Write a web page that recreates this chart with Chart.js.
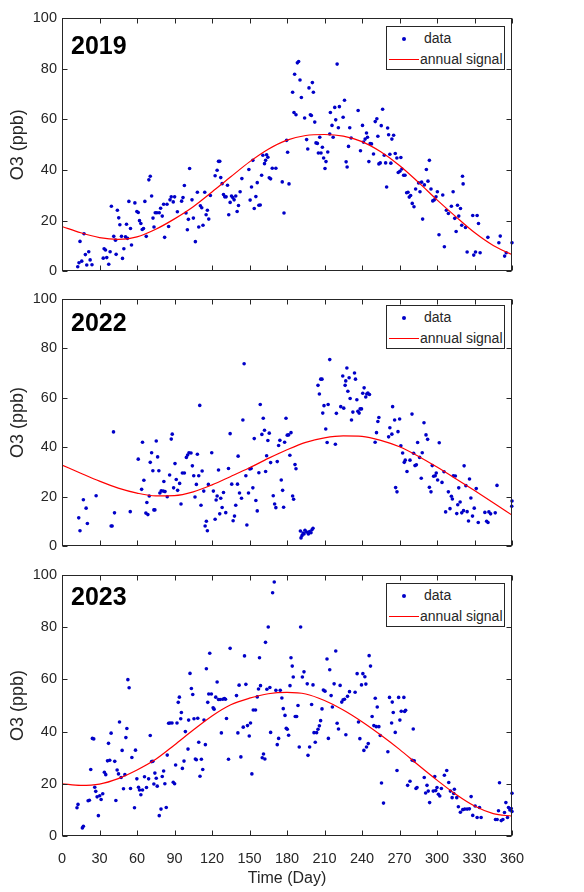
<!DOCTYPE html>
<html>
<head>
<meta charset="utf-8">
<script src="https://cdn.jsdelivr.net/npm/chart.js@4.4.1/dist/chart.umd.min.js"></script>
<style>
  body { margin: 0; background: #fff; }
  #wrap { position: relative; width: 584px; height: 892px; overflow: hidden; }
  canvas { position: absolute; left: 0; }
  .legend {
    position: absolute; left: 386px; width: 117px; height: 42px;
    border: 1px solid #262626; background: #fff;
    font: 14px "Liberation Sans", Arial, sans-serif; color: #262626;
  }
  .legend .dot { position: absolute; left: 15px; top: 10px; width: 4px; height: 4px; border-radius: 2px; background: #0000c8; }
  .legend .line { position: absolute; left: 2px; top: 32px; width: 30px; height: 1px; background: #ff0000; }
  .legend .t1 { position: absolute; left: 37px; top: 3px; }
  .legend .t2 { position: absolute; left: 33px; top: 24px; }
</style>
</head>
<body>
<div id="wrap">
  <canvas id="c2019" width="584" height="285" style="top:0px"></canvas>
  <canvas id="c2022" width="584" height="275" style="top:285px"></canvas>
  <canvas id="c2023" width="584" height="332" style="top:560px"></canvas>
  <div class="legend" style="top:26px"><span class="dot"></span><span class="t1">data</span><span class="line"></span><span class="t2">annual signal</span></div>
  <div class="legend" style="top:305px"><span class="dot"></span><span class="t1">data</span><span class="line"></span><span class="t2">annual signal</span></div>
  <div class="legend" style="top:583px"><span class="dot"></span><span class="t1">data</span><span class="line"></span><span class="t2">annual signal</span></div>
</div>
<script>
// tick values
const xTicks = [0, 30, 60, 90, 120, 150, 180, 210, 240, 270, 300, 330, 360];
const yTicks = [0, 20, 40, 60, 80, 100];

// annual signal, read every 15 days
const signalDays = [0, 15, 30, 45, 60, 75, 90, 105, 120, 135, 150, 165, 180, 195, 210, 225, 240, 255, 270, 285, 300, 315, 330, 345, 360];
const signal2019 = [17.7, 15.2, 13.3, 12.6, 13.6, 16.6, 20.7, 25.5, 31.3, 37.3, 43.2, 48.2, 51.8, 53.6, 54, 53.4, 51.2, 47.2, 41.8, 35.2, 28.2, 21.6, 15.3, 10.2, 6.6];
const signal2022 = [32.8, 29.5, 26.3, 23.5, 21.5, 20.4, 20.5, 22, 24.8, 28.2, 31.7, 35.5, 39, 42, 43.8, 44.6, 44.4, 42.8, 40.2, 36.4, 32, 27.3, 22.5, 17.6, 12.6];
const signal2023 = [20, 19.4, 19.9, 22, 25.3, 29.4, 34.9, 40.6, 46, 50.3, 52.8, 54.5, 55, 54.4, 51.9, 48.3, 43.8, 38.7, 33.2, 27.2, 21.4, 16, 11.5, 8.6, 7.6];

// daily O3 observations [day, ppb]
const obs2019 = [
  [12.6,1.8],[13.6,3.4],[14.4,11.8],[15.8,4],[17.6,14.8],[18.7,6.6],[19.8,2.5],[21.4,7.7],[22.5,4.5],[24,2.6],
  [33,5.2],[33.7,8.9],[34.8,8.4],[35.8,5.4],[37.4,2.8],[38.5,7.7],[39.5,25.7],[41.4,13.8],[42.8,12.3],[43.3,6.7],
  [44.3,24.1],[45.4,21.1],[46.3,18.4],[47.6,13.8],[48.4,5.1],[49.5,8.9],[50.8,13.6],[51.6,18.6],[52.4,13],[53.5,27.6],
  [54.8,16.9],[55.6,10.4],[58.3,27],[59.9,23.6],[61,23.2],[62,20],[63.1,18.9],[64.2,16.5],[65.2,16.9],[66.3,27.6],
  [67.4,13.8],[69.5,36.1],[70.6,37.5],[71.7,29.7],[72.8,21],[73.6,17.5],[74.6,23.1],[75.9,23.1],[77.8,23.1],[78.9,24.9],
  [80.2,21.8],[81.3,26.5],[82.1,13.4],[84,26.5],[85.3,17.7],[86.4,28.2],[87.4,29.4],[89,27.4],[90.1,29.4],[92.3,23.5],
  [95.7,27.7],[96.8,29.1],[97.9,33.9],[99.2,23],[100.3,16.4],[101.1,20.5],[102.1,40.6],[104,28.2],[105.1,21],[106.7,11.7],
  [108.3,31.2],[109.4,17.5],[110.7,25.9],[111.8,25.1],[112.8,18.2],[114.2,31.2],[115.3,22.3],[116.3,24.1],[117.4,20.6],[118.7,29.9],
  [122.5,37.7],[124.1,39.9],[125.2,43.4],[126.2,43.4],[127,37],[128.1,34.6],[129.2,30.3],[130.2,29.4],[131.3,29.4],[132.4,34],
  [133.4,22.3],[134.5,27.2],[135.6,29.7],[136.6,29.1],[137.7,28.2],[139,29.7],[140.1,23.6],[141.2,26],[142.5,31.4],[143.9,36.6],
  [149.5,40.2],[150.5,28.1],[151.6,33.3],[152.7,43.8],[153.8,24.8],[155.1,29.5],[156.2,35],[157.5,26.1],[158.6,26.2],[159.7,37.9],
  [160.7,45.8],[162,42.5],[162.9,43.8],[163.7,46],[164.7,45],[165.8,36.9],[166.9,36.5],[168.2,40.7],[171.1,40.7],[176.2,35.3],
  [177.6,23],[179.7,51.7],[180.5,47],[181.6,34.5],[184.5,70.7],[185.6,62.7],[186.1,77.8],[187.2,61.8],[188.3,82.3],[189.3,82.8],
  [190.4,75.5],[191.5,68.6],[194.1,60.5],[195.7,52],[196.6,48.3],[197.6,72.4],[198.7,61.8],[199.5,61.5],[200.3,74.5],[201.1,70.7],
  [202.2,58.9],[203.2,50.7],[204.3,50.5],[205.1,46.7],[206.2,52.9],[207.2,46.7],[208.3,49],[209.3,44.7],[210.4,40.6],[211.2,43.3],
  [212.6,47.1],[214.2,54.2],[214.7,62.7],[216,57.6],[216.9,52.9],[218.2,64.7],[219,59.8],[220.1,81.8],[221.1,56.7],[221.9,65],
  [224.9,60.8],[226,67.5],[227.3,43.2],[228.1,41.2],[229.2,49.3],[230.2,56.7],[231.3,52.6],[236.9,63.5],[238.8,47.6],[240.4,57.6],
  [241.2,51],[242.5,52.2],[243.6,54.6],[244.4,52.9],[245.5,43.3],[246.5,50.4],[247.6,50.3],[249.2,46.3],[250.6,59.1],[251.9,60.2],
  [252.7,53.3],[253.5,42.4],[254.6,42.8],[255.4,57.5],[256.5,64],[257.8,45.8],[258.9,42.8],[259.7,33.3],[260.5,56.6],[261.3,53.9],
  [262.3,46.2],[263.1,42.7],[263.9,52.2],[265.3,53.7],[266.6,46.5],[267.9,44.7],[269,39],[270.3,39.5],[271.1,44.9],[271.9,40.4],
  [273.3,37.9],[274.4,37.9],[275.7,31],[276.8,31.2],[277.8,29.3],[278.9,29.9],[280.2,26.8],[281.6,25.5],[282.9,32.5],[285.3,34.9],
  [286.4,31.4],[287.7,35.2],[288.5,20.6],[289.9,34.1],[291.5,40.2],[292.8,35.6],[293.9,43.8],[295.2,32.5],[296.6,27.8],[297.9,28.2],
  [299.2,29.4],[300.3,31.4],[301.6,14.4],[304.6,30.1],[305.9,9.7],[307.5,24.1],[309.1,22.8],[311.5,25.7],[312.9,31.4],[314.2,20.9],
  [315.3,15.7],[316.4,26.1],[317.4,21.8],[318.8,24.8],[319.8,18.2],[320.4,37.5],[320.9,34.5],[322.8,17.3],[324.1,7.6],[328.6,22],
  [329.4,6.4],[330.8,7.6],[332.1,22],[333.2,18.9],[334.5,7.3],[340.7,13.4],[349.5,11.3],[350.6,13.9],[354.1,6],[355.4,7.3],
  [360,11.3]
];

const obs2022 = [
  [13.4,11.5],[14.4,6.3],[17.1,18.8],[19.3,15.4],[20.3,9.2],[27.3,20.4],[39.3,8.2],[40.1,8.2],[41.2,46.2],[42,13.5],
  [54.6,14],[61,35.2],[63.7,23],[64.4,42],[65.5,26.7],[67.1,13.4],[67.9,17.7],[68.7,12.8],[69.8,20.3],[70.6,33.9],
  [71.7,37.8],[72.7,30.5],[73.5,14.7],[74.3,14.7],[75.4,42.5],[76.5,36.1],[77.5,30.5],[78.3,21.5],[79.4,22.4],[81,22.3],
  [81.5,26.2],[82.4,22.1],[84.2,20],[86.1,28.8],[87.4,43.3],[88.2,45.3],[89.3,23.6],[90.4,33.4],[91.4,27],[92.5,22.6],
  [94.1,25.4],[95.2,17.1],[96.3,29.6],[97.9,29.6],[99.5,35.9],[100.5,36.9],[101.6,37.8],[103.2,37.7],[104.3,32.5],[105.4,28.5],
  [106.4,19.9],[107.5,25],[108.3,37.2],[109.4,28.5],[110.2,56.9],[111.2,16.6],[112.1,30.4],[113.4,22.3],[114.5,8.2],[115.5,10.1],
  [116.3,6.3],[117.1,25],[119.8,37.8],[121.1,22.3],[122.5,10.9],[123.3,18.7],[124.1,20.3],[125.2,30.8],[126.2,13.1],[127,19.4],
  [128.1,15.7],[129.2,21.7],[131,13.6],[133.2,31.4],[134.5,45.5],[135.8,25.1],[136.9,10.3],[138,12.2],[139,16.6],[140.4,25.1],
  [140.9,36.4],[142,21.5],[143.6,19.4],[144.7,51],[145.7,73.7],[147.1,28.5],[147.9,8.6],[149.2,21.5],[150.3,31.2],[151.3,31.4],
  [152.7,23.6],[153.8,43.5],[155.1,18.5],[156.2,14.3],[157.5,29.7],[158.6,57.3],[159.9,45.2],[161,51.7],[162,46.9],[162.9,30.2],
  [163.7,36.6],[164.7,42.7],[165.8,45.7],[166.9,33.8],[169,20.4],[170.1,17.1],[171.1,15.6],[172.2,34.2],[173.3,40.7],[174.3,42.8],
  [175.4,26.8],[176.5,22.6],[177.3,15.8],[178.1,42],[179.2,51.7],[180.2,44.9],[181.3,45],[182.3,36.8],[183.2,45.9],[184.5,20.3],
  [185.3,19],[186.4,33],[187.2,31.3],[190.7,6.2],[191.2,3.4],[192,4.3],[192.8,5.4],[193.6,5],[194.4,6.5],[195.7,5.8],
  [197.1,5],[198.1,6],[199.2,5.5],[200,6.7],[200.8,7.3],[204.8,65],[205.9,61.5],[207,67.5],[208,67.5],[208.6,53.8],
  [209.6,56.8],[211,47.4],[212.1,41.9],[212.9,57.3],[214.2,75.4],[218.7,41.2],[219.5,53.7],[223,56.4],[224.6,68.8],[225.4,55.8],
  [226.5,65],[227,66.8],[227.9,72],[228.7,62.6],[229.7,68.1],[230.5,59.7],[231.6,51],[232.7,54.2],[234,70],[234.8,67.5],
  [235.9,59.2],[236.7,54.5],[237.7,53.8],[238.5,55.5],[239.6,55.5],[240.6,61.8],[241.7,64],[243,60.3],[243.8,61.5],[244.7,61.9],
  [246,61.3],[250.5,42],[251.6,45.9],[252.7,50.4],[253.5,52],[261.3,44.2],[262.3,47.9],[263.9,45.3],[264.5,56.4],[266.1,51],
  [266.9,23.7],[268,22],[268.8,46.3],[270.1,51.4],[271.1,40.6],[272.5,37.7],[273.8,33.9],[274.6,34.8],[276,30.2],[278.4,34.8],
  [280,53.4],[281.3,37.6],[282.4,32.6],[283.5,32.9],[284.5,41.9],[286.1,35.9],[287.4,27.5],[288.2,37.8],[289.6,49.9],[291.2,45],
  [292.5,43.2],[293.9,23.8],[295.2,22],[296.2,32.6],[297.3,28.3],[298.6,28.5],[299.4,29.6],[300.5,26.8],[301.8,41.8],[304,25.8],
  [305.6,30.1],[306.9,13.9],[309.1,22],[310.4,15.2],[311.5,20.2],[312.3,19.1],[313.1,28.5],[314.7,28.4],[315.8,13.2],[316.6,16.8],
  [317.4,23.6],[318.5,17.9],[319.8,13.5],[321.2,14.4],[321.7,32.5],[323.1,24.5],[324.1,14],[325.2,10.2],[326,27.2],[327.1,19.5],
  [328.4,12.2],[329.8,15.4],[331.4,23.3],[333,9.6],[338.3,13.7],[339.7,10.1],[340.8,9.6],[341.5,13.9],[342.9,13.1],[346.6,13.5],
  [348,24.6],[359.8,16.2],[360,18.3]
];

const obs2023 = [
  [12,10.8],[12.8,12.1],[16.3,3.1],[17.1,3.7],[20.9,13.5],[21.9,13.7],[23,25.5],[24.3,37.4],[25.4,37.2],[26.2,18.7],
  [27,17.1],[28.1,15],[29.1,7.8],[30.2,15.4],[31.3,14],[32.6,16.2],[33.9,24.4],[35,23.5],[36.4,28.8],[37.2,35.5],
  [38.2,29],[39.3,39.4],[42.2,28.6],[43.1,13.6],[44.1,25.3],[45.2,23.8],[46,43.7],[47.3,22.4],[48.1,32.8],[49.2,18.1],
  [50.3,23.5],[51.1,37.7],[51.9,41.2],[52.7,59.9],[53.7,56.8],[54.8,18.2],[55.9,30.1],[58,10.8],[58.8,32.9],[59.9,21.9],
  [61.2,18.7],[62,17.6],[63.1,15.8],[64.4,17.6],[66,22.7],[67.6,18.6],[69.3,21.9],[70.6,38.5],[71.7,28.5],[72.7,28.6],
  [73.5,19.9],[74.3,24.1],[75.4,22.1],[76.2,19.1],[77.8,7.8],[79.2,10.3],[80.2,22.8],[81.3,24.9],[82.3,20],[83.4,10.9],
  [84.2,31],[85.3,43.2],[86.4,43.3],[88,43.3],[89,20.6],[90.1,20],[90.9,27.2],[92,43.3],[93,51.2],[93.9,53.2],
  [95,44.9],[95.5,47.3],[96.3,25.9],[97.6,28.7],[98.7,40],[100.8,33.3],[101.3,44.4],[102.4,62.3],[103.5,56.5],[104.6,54.2],
  [105.6,44.9],[106.7,29.5],[107.5,29.2],[108.6,45.1],[109.4,35.9],[110.4,22.9],[111.5,29.4],[112.6,25.5],[113.6,44.4],[114.7,35],
  [115.5,64.1],[116.6,51.2],[117.4,54.4],[118.2,70],[119.5,54.4],[120.9,49.1],[121.7,48.6],[123,53.2],[124.1,59],[125.2,52.3],
  [126.5,52.3],[127.5,39.5],[128.6,52.4],[129.9,52.7],[130.8,52.4],[131.6,45],[133.2,29.4],[134.5,71.9],[139.6,53.8],[140.7,39.5],
  [141.7,57.8],[143.1,30.3],[145,41.7],[146,69],[147.1,58.1],[148.4,42.3],[149.8,38.3],[150.8,43.3],[151.9,23.8],[153,48.3],
  [154.8,48.3],[156.2,53.3],[157.2,56.3],[158,68.3],[158.8,57.6],[160.2,30],[161.2,31.4],[162.3,29.5],[162.8,74.2],[163.9,56.2],
  [165,80.1],[166.3,56.9],[166.9,39.7],[168.5,93.2],[169.8,97.3],[171.1,55.8],[172.2,35],[173.3,37.4],[174.6,55.8],[175.9,52.9],
  [177,48.8],[178.4,46.2],[179.4,41.3],[180.2,40.9],[181.3,38.6],[182.4,57.6],[183.2,68.3],[184.2,65.1],[185,60.9],[186.6,45.8],
  [187.7,45.8],[188.8,50],[189.8,34.1],[190.9,80.1],[192.3,60.9],[193.6,62.9],[196.2,58.3],[196.8,30.9],[198.1,34.1],[199.7,50.4],
  [200.8,57.9],[201.6,39.6],[202.6,35.9],[203.7,39.6],[204.8,40.9],[205.9,42.2],[206.9,44.2],[208,48.7],[209.1,55.9],[210.4,55.5],
  [212,67.8],[213.1,37.4],[214.2,63.7],[215.3,53.8],[216.3,49.4],[217.7,58.3],[219,70.9],[220.1,43.2],[221.2,41],[222.5,57.7],
  [223.8,51.3],[224.9,52.2],[226,52.4],[227.1,38.8],[228.4,53.5],[230,55.3],[234.5,55.1],[236.1,62.2],[237.2,43.7],[238.3,37.3],
  [239.6,57.9],[240.7,62.2],[241.5,32.8],[242.3,61],[243.1,58.2],[243.6,34.1],[245,35.4],[245.7,69.1],[246.8,65.1],[248.1,45.8],
  [249.5,42.3],[250.6,52.8],[251.4,41.9],[252.2,49.4],[253.5,41.9],[254.6,38.5],[255.6,20.3],[257.2,12.6],[260.7,32.3],[262,53.1],
  [263.7,43.3],[264.2,51.3],[265,47.3],[266.6,39.7],[268,25.1],[269.3,53.1],[270.3,44.4],[271.4,47.8],[273.5,53.1],[274.1,47.7],
  [274.9,48.2],[276.5,19.4],[278.4,21],[280.2,29],[281,41],[281.8,28.8],[283.2,18.2],[284,18.6],[289.8,22.4],[290.9,16.5],
  [292,19.4],[293,17.2],[294.1,12.8],[297,17.2],[298.2,22.8],[299,17.4],[300,18.6],[301.1,16],[302.2,15.3],[303.5,18.2],
  [305.9,23.3],[307.8,25.1],[309.4,20.5],[310.7,17.2],[312.1,14.7],[313.4,16.3],[313.9,17.9],[315.8,14.7],[317.1,11.2],[318.7,9.1],
  [320.6,10.1],[322.2,10.3],[324.1,10.3],[325.9,10.4],[327.3,15.1],[328.6,7.9],[330.5,11.5],[332.1,7.1],[334,10.9],[335.3,7.1],
  [346.8,6.3],[348.1,6.3],[349.2,9.7],[350,20.4],[351.4,5.9],[352.7,6.3],[354,9],[355.1,12.8],[356.4,7.1],[357.2,10.9],
  [358.3,10],[359.4,10.5],[360,16.4],[360,9.4]
];

const axisColor = '#262626';
const fontFamily = '"Liberation Sans", Arial, sans-serif';

// MATLAB style box: frame, inward ticks on all four sides, bold year label
const matlabBox = {
  id: 'matlabBox',
  afterDraw(chart, args, opts) {
    const { ctx, chartArea: a, scales } = chart;
    const L = Math.round(a.left) + 0.5, R = Math.round(a.right) - 0.5;
    const T = Math.round(a.top) + 0.5, B = Math.round(a.bottom) - 0.5;
    ctx.save();
    ctx.strokeStyle = axisColor;
    ctx.lineWidth = 1;
    ctx.strokeRect(L, T, R - L, B - T);
    ctx.beginPath();
    scales.x.ticks.forEach(t => {
      const px = Math.round(scales.x.getPixelForValue(t.value)) + 0.5;
      ctx.moveTo(px, B); ctx.lineTo(px, B - 5);
      ctx.moveTo(px, T); ctx.lineTo(px, T + 5);
    });
    scales.y.ticks.forEach(t => {
      const py = Math.round(scales.y.getPixelForValue(t.value)) + 0.5;
      ctx.moveTo(L, py); ctx.lineTo(L + 5, py);
      ctx.moveTo(R, py); ctx.lineTo(R - 5, py);
    });
    ctx.stroke();
    ctx.fillStyle = '#000';
    ctx.font = 'bold 25px ' + fontFamily;
    ctx.textBaseline = 'alphabetic';
    ctx.fillText(opts.year, a.left + 9, a.top + opts.yearTop);
    ctx.restore();
  }
};

function makePanel(id, obs, signal, year, yearTop, padTop, xHeight, showX) {
  const ctx = document.getElementById(id).getContext('2d');
  return new Chart(ctx, {
    type: 'scatter',
    data: {
      datasets: [
        {
          label: 'annual signal',
          data: signalDays.map((d, i) => ({ x: d, y: signal[i] })),
          showLine: true,
          borderColor: '#ff0000',
          borderWidth: 1.2,
          pointRadius: 0,
          cubicInterpolationMode: 'monotone',
          order: 0,
        },
        {
          label: 'data',
          data: obs.map(p => ({ x: p[0], y: p[1] })),
          showLine: false,
          backgroundColor: '#0000c8',
          borderWidth: 0,
          pointRadius: 1.8,
          clip: 4,
          order: 1,
        },
      ],
    },
    options: {
      responsive: false,
      animation: false,
      devicePixelRatio: 1,
      layout: { padding: { top: padTop, right: 72, left: 0, bottom: 0 } },
      plugins: {
        legend: { display: false },
        tooltip: { enabled: false },
        matlabBox: { year: year, yearTop: yearTop },
      },
      scales: {
        x: {
          type: 'linear',
          min: xTicks[0],
          max: xTicks[xTicks.length - 1],
          afterBuildTicks: s => { s.ticks = xTicks.map(v => ({ value: v })); },
          afterFit: s => { s.height = xHeight; },
          grid: { display: false, drawTicks: false },
          border: { display: false },
          ticks: {
            display: showX,
            padding: 14,
            color: axisColor,
            font: { family: fontFamily, size: 14.5 },
            maxRotation: 0,
          },
          title: {
            display: showX,
            text: 'Time (Day)',
            color: axisColor,
            font: { family: fontFamily, size: 16 },
            padding: { top: 2, bottom: 3.4 },
          },
        },
        y: {
          min: yTicks[0],
          max: yTicks[yTicks.length - 1],
          afterBuildTicks: s => { s.ticks = yTicks.map(v => ({ value: v })); },
          afterFit: s => { s.width = 62; },
          grid: { display: false, drawTicks: false },
          border: { display: false },
          ticks: {
            padding: 5,
            color: axisColor,
            font: { family: fontFamily, size: 14.5 },
          },
          title: {
            display: true,
            text: 'O3 (ppb)',
            color: axisColor,
            font: { family: fontFamily, size: 18 },
            padding: { top: 7, bottom: 0 },
          },
        },
      },
    },
    plugins: [matlabBox],
  });
}

makePanel('c2019', obs2019, signal2019, '2019', 36, 18, 13, false);
makePanel('c2022', obs2022, signal2022, '2022', 32, 12, 8, false);
makePanel('c2023', obs2023, signal2023, '2023', 30, 15, 56, true);
</script>
</body>
</html>
